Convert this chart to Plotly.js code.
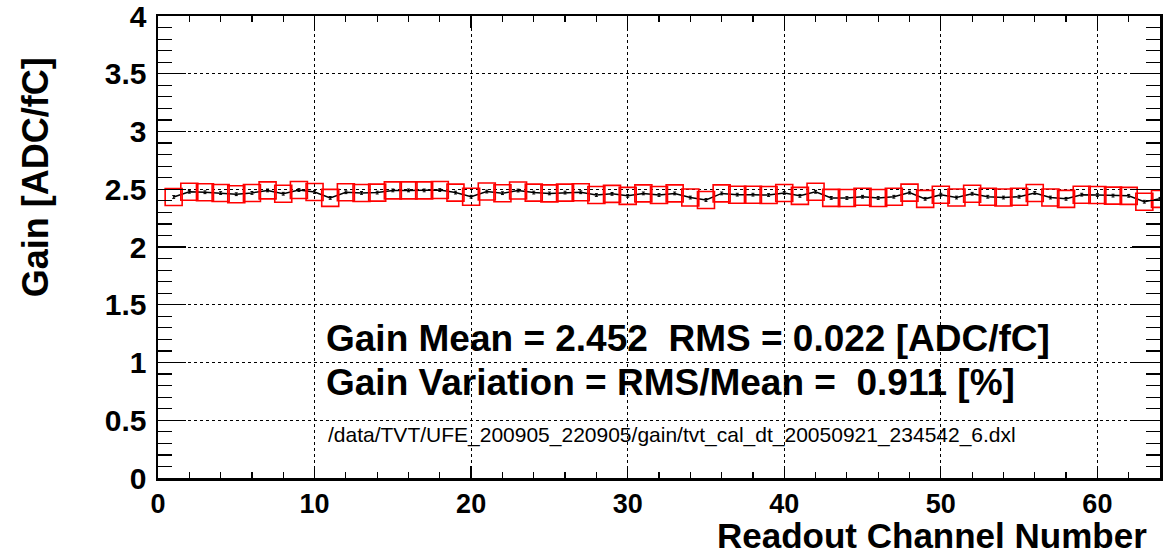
<!DOCTYPE html>
<html>
<head>
<meta charset="utf-8">
<script src="https://cdn.plot.ly/plotly-3.0.1.min.js"></script>
<style>
html,body{margin:0;padding:0;background:#fff;}
#chart{width:1167px;height:556px;}
</style>
</head>
<body>
<div id="chart"></div>
<script>
const channels = [1,2,3,4,5,6,7,8,9,10,11,12,13,14,15,16,17,18,19,20,21,22,23,24,25,26,27,28,29,30,31,32,
  33,34,35,36,37,38,39,40,41,42,43,44,45,46,47,48,49,50,51,52,53,54,55,56,57,58,59,60,61,62,63,64];
const gain = [2.433,2.478,2.474,2.467,2.457,2.468,2.490,2.461,2.493,2.476,
  2.425,2.474,2.468,2.471,2.490,2.490,2.490,2.493,2.471,2.435,
  2.480,2.466,2.489,2.471,2.464,2.471,2.474,2.450,2.460,2.443,
  2.464,2.450,2.464,2.428,2.407,2.464,2.453,2.453,2.450,2.468,
  2.443,2.478,2.425,2.424,2.435,2.424,2.435,2.471,2.417,2.453,
  2.428,2.461,2.435,2.428,2.435,2.468,2.428,2.417,2.453,2.450,
  2.445,2.443,2.392,2.417];
const gainErr = [0.012,0.012,0.012,0.012,0.012,0.012,0.012,0.012,0.012,0.012,
  0.012,0.012,0.012,0.012,0.012,0.012,0.012,0.012,0.012,0.012,
  0.012,0.012,0.012,0.012,0.012,0.012,0.012,0.012,0.012,0.012,
  0.012,0.012,0.012,0.012,0.012,0.012,0.012,0.012,0.012,0.012,
  0.012,0.012,0.012,0.012,0.012,0.012,0.012,0.012,0.012,0.012,
  0.012,0.012,0.012,0.012,0.012,0.012,0.012,0.012,0.012,0.012,
  0.012,0.012,0.012,0.012];

const statLine1 = "Gain Mean = 2.452\u00a0\u00a0RMS = 0.022 [ADC/fC]";
const statLine2 = "Gain Variation = RMS/Mean =\u00a0\u00a00.911 [%]";
const fileLine = "/data/TVT/UFE_200905_220905/gain/tvt_cal_dt_20050921_234542_6.dxl";
const xTitle = "Readout Channel Number";
const yTitle = "Gain [ADC/fC]";

const FONT = "Liberation Sans, Arial, Helvetica, sans-serif";

const traces = [
  {
    x: channels, y: gain, type: 'scatter', mode: 'lines',
    line: {color: '#000', width: 1.5},
    error_y: {type: 'data', array: gainErr, visible: true, color: '#000', thickness: 1, width: 1.5},
    hoverinfo: 'skip', showlegend: false
  },
  {
    x: channels, y: gain, type: 'scatter', mode: 'markers',
    marker: {symbol: 'square-open', size: 17, color: '#ff0000', line: {color: '#ff0000', width: 1.6}},
    showlegend: false
  }
];

const layout = {
  width: 1167, height: 556,
  margin: {l: 158, r: 7, t: 16, b: 78, pad: 0},
  paper_bgcolor: '#fff', plot_bgcolor: '#fff',
  showlegend: false,
  xaxis: {
    range: [0, 64], tick0: 0, dtick: 10, autorange: false,
    ticks: 'inside', ticklen: 12, tickwidth: 1.3, tickcolor: '#000',
    showline: true, linecolor: '#000', linewidth: 2.5, mirror: 'ticks',
    showgrid: true, gridcolor: '#000', gridwidth: 1, griddash: 'dot',
    zeroline: false,
    minor: {dtick: 2, ticks: 'inside', ticklen: 6, tickwidth: 1.2, tickcolor: '#000', showgrid: false},
    tickfont: {family: FONT, size: 27, color: '#000', weight: 'bold'},
    ticklabeloverflow: 'allow'
  },
  yaxis: {
    range: [0, 4], tick0: 0, dtick: 0.5, autorange: false,
    ticks: 'inside', ticklen: 28, tickwidth: 1.3, tickcolor: '#000',
    showline: true, linecolor: '#000', linewidth: 2.5, mirror: 'ticks',
    showgrid: true, gridcolor: '#000', gridwidth: 1, griddash: 'dot',
    zeroline: false,
    minor: {dtick: 0.1, ticks: 'inside', ticklen: 14, tickwidth: 1.2, tickcolor: '#000', showgrid: false},
    tickfont: {family: FONT, size: 30, color: '#000', weight: 'bold'},
    ticklabelstandoff: 3,
    ticklabeloverflow: 'allow'
  },
  annotations: [
    {text: yTitle, xref: 'paper', yref: 'paper', x: -0.1228, y: 0.651, textangle: -90,
     xanchor: 'center', yanchor: 'middle', showarrow: false,
     font: {family: FONT, size: 36, color: '#000', weight: 'bold'}},
    {text: xTitle, xref: 'paper', yref: 'paper', x: 0.988, y: -0.1685,
     xanchor: 'right', yanchor: 'bottom', showarrow: false, borderpad: 0,
     font: {family: FONT, size: 35, color: '#000', weight: 'bold'}},
    {text: statLine1, xref: 'x', yref: 'y', x: 10.6, y: 1.207,
     xanchor: 'left', yanchor: 'middle', showarrow: false,
     font: {family: FONT, size: 37, color: '#000', weight: 'bold'}},
    {text: statLine2, xref: 'x', yref: 'y', x: 10.6, y: 0.828,
     xanchor: 'left', yanchor: 'middle', showarrow: false,
     font: {family: FONT, size: 37, color: '#000', weight: 'bold'}},
    {text: fileLine, xref: 'x', yref: 'y', x: 10.75, y: 0.371,
     xanchor: 'left', yanchor: 'middle', showarrow: false,
     font: {family: FONT, size: 21, color: '#000'}}
  ]
};

Plotly.newPlot('chart', traces, layout, {displayModeBar: false, staticPlot: true});
</script>
</body>
</html>
